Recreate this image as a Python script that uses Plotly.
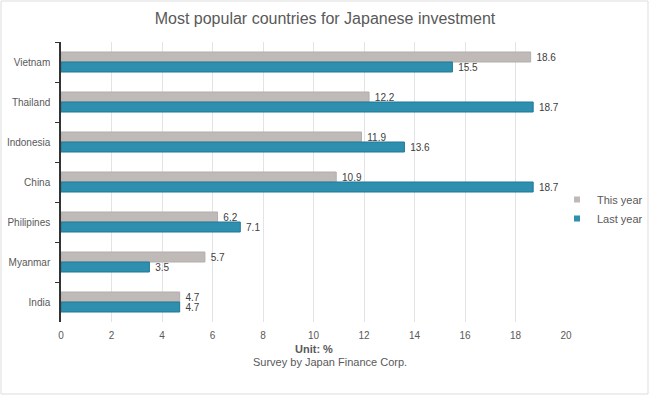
import plotly.graph_objects as go

countries = ["Vietnam", "Thailand", "Indonesia", "China", "Philipines", "Myanmar", "India"]
this_year = [18.6, 12.2, 11.9, 10.9, 6.2, 5.7, 4.7]
last_year = [15.5, 18.7, 13.6, 18.7, 7.1, 3.5, 4.7]
x_ticks = [0, 2, 4, 6, 8, 10, 12, 14, 16, 18, 20]

W, H = 650, 396
L, R, T, B = 61, 84, 42, 74
pw, ph = W - L - R, H - T - B

GRAY = "#BFBAB7"
BLUE = "#2F8FAF"
FONT = "Liberation Sans, Arial, sans-serif"

fig = go.Figure()
fig.add_trace(go.Bar(
    y=countries, x=this_year, orientation="h", name="This year",
    marker=dict(color=GRAY, line=dict(color="#B3AEAB", width=1)),
    texttemplate="\u00a0%{x:.1f}", textposition="outside",
    textfont=dict(size=10, color="#404040", family=FONT),
    constraintext="none", cliponaxis=False, showlegend=False,
))
fig.add_trace(go.Bar(
    y=countries, x=last_year, orientation="h", name="Last year",
    marker=dict(color=BLUE, line=dict(color="#1E7896", width=1)),
    texttemplate="\u00a0%{x:.1f}", textposition="outside",
    textfont=dict(size=10, color="#404040", family=FONT),
    constraintext="none", cliponaxis=False, showlegend=False,
))
# legend entries (small square markers)
fig.add_trace(go.Scatter(x=[None], y=[None], mode="markers", name="This year",
                         marker=dict(symbol="square", size=6, color=GRAY)))
fig.add_trace(go.Scatter(x=[None], y=[None], mode="markers", name="Last year",
                         marker=dict(symbol="square", size=6, color=BLUE)))

def px_x(px):
    return (px - L) / pw

def px_y(py):
    return (H - B - py) / ph

fig.update_layout(
    width=W, height=H,
    margin=dict(l=L, r=R, t=T, b=B, autoexpand=False),
    paper_bgcolor="white", plot_bgcolor="white",
    font=dict(family=FONT, color="#595959", size=11),
    title=dict(text="Most popular countries for Japanese investment",
               x=0.5, xanchor="center", y=1 - 18 / H, yanchor="middle",
               font=dict(size=16, color="#595959", family=FONT)),
    barmode="group", bargap=0.5, bargroupgap=0.0,
    legend=dict(x=px_x(557), y=px_y(209), xanchor="left", yanchor="middle",
                font=dict(size=11, color="#595959"), bgcolor="rgba(0,0,0,0)"),
    xaxis=dict(range=[0, 20], tickvals=x_ticks, showgrid=True, automargin=False,
               gridcolor="#E3E3E3", gridwidth=1, zeroline=False, showline=False,
               tickfont=dict(size=10, color="#595959"), ticks="",
               ticklabelstandoff=6),
    yaxis=dict(autorange="reversed", showline=True, linecolor="#333333",
               linewidth=1.5, ticks="outside", tickson="boundaries", ticklen=4,
               tickcolor="#333333", showgrid=False, automargin=False,
               tickfont=dict(size=10, color="#595959"), ticklabelstandoff=7),
    annotations=[
        dict(text="<b>Unit: %</b>", x=px_x(314), y=px_y(349), xref="paper", yref="paper",
             xanchor="center", yanchor="middle",
             showarrow=False, font=dict(size=11, color="#595959")),
        dict(text="Survey by Japan Finance Corp.", x=px_x(330), y=px_y(362),
             xref="paper", yref="paper", xanchor="center", yanchor="middle",
             showarrow=False, font=dict(size=11, color="#595959")),
    ],
    shapes=[dict(type="rect", xref="paper", yref="paper",
                 x0=px_x(1), x1=px_x(648), y0=px_y(394), y1=px_y(1),
                 line=dict(color="#DDDDDD", width=1), fillcolor="rgba(0,0,0,0)",
                 layer="below")],
)

fig.write_html("out.html", config={"displayModeBar": False},
               post_script="document.body.style.margin='0';document.body.style.overflow='hidden';")
